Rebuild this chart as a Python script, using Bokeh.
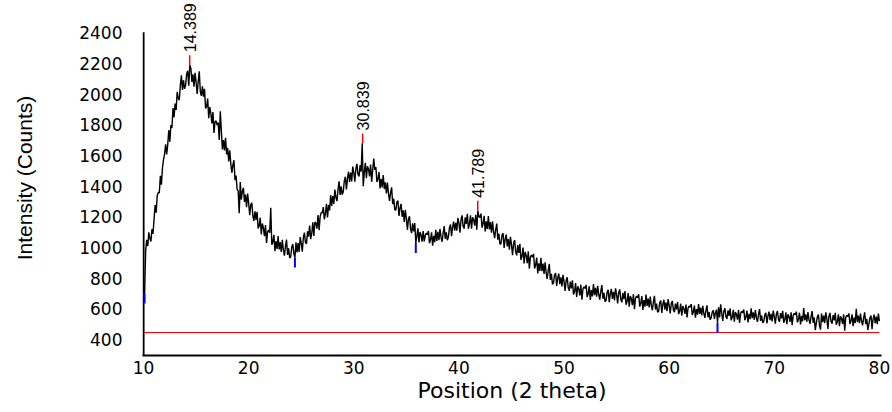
import numpy as np
from bokeh.plotting import figure
from bokeh.models import FixedTicker, LabelSet, ColumnDataSource
from bokeh.core.properties import value
from bokeh.embed import file_html
from bokeh.resources import INLINE

# ---- data (2-theta from 10.0 in 0.1 steps) ----
start_2theta = 10.0
step_2theta = 0.1
intensity = [
    690, 700, 980, 1050, 1010, 1100, 1060, 1040, 1120, 1090,      # 10
    1184, 1278, 1228, 1338, 1360, 1358, 1468, 1410, 1520, 1574,   # 11
    1610, 1674, 1608, 1672, 1766, 1690, 1800, 1780, 1910, 1850,   # 12
    1940, 1898, 2016, 1974, 1962, 2060, 2124, 2028, 2092, 2036,   # 13
    2060, 2132, 2154, 2056, 2190, 2170, 2080, 2130, 2050, 2140,   # 14
    2080, 2002, 2084, 2150, 2018, 1990, 2052, 1984, 2036, 1908,   # 15
    1920, 1972, 1844, 1916, 1878, 1810, 1884, 1748, 1822, 1826,   # 16
    1800, 1816, 1702, 1890, 1764, 1640, 1702, 1634, 1716, 1608,   # 17
    1650, 1562, 1634, 1546, 1488, 1540, 1570, 1440, 1470, 1380,   # 18
    1370, 1225, 1428, 1312, 1366, 1390, 1298, 1346, 1264, 1352,   # 19
    1289, 1212, 1279, 1292, 1206, 1174, 1236, 1181, 1234, 1125,   # 20
    1142, 1195, 1086, 1157, 1129, 1074, 1147, 1031, 1104, 1114,   # 21
    1097, 1260, 1018, 1037, 1083, 976, 1042, 991, 1075, 988,      # 22
    1036, 971, 1050, 985, 947, 1008, 1052, 952, 996, 932,         # 23
    940, 1004, 1023, 960, 935, 1035, 969, 1029, 972, 1068,        # 24
    1029, 974, 1063, 1098, 1034, 1024, 1106, 1071, 1144, 1055,    # 25
    1092, 1165, 1076, 1167, 1159, 1124, 1213, 1113, 1202, 1228,   # 26
    1227, 1264, 1184, 1221, 1285, 1196, 1278, 1243, 1343, 1272,   # 27
    1336, 1285, 1378, 1327, 1303, 1378, 1433, 1344, 1399, 1346,   # 28
    1365, 1436, 1462, 1380, 1451, 1495, 1429, 1489, 1432, 1528,   # 29
    1489, 1430, 1515, 1546, 1478, 1464, 1538, 1495, 1680, 1400,   # 30
    1492, 1553, 1452, 1531, 1511, 1464, 1541, 1429, 1506, 1580,   # 31
    1507, 1526, 1428, 1447, 1493, 1386, 1448, 1393, 1473, 1382,   # 32
    1426, 1353, 1424, 1351, 1305, 1358, 1393, 1284, 1319, 1246,   # 33
    1245, 1298, 1306, 1206, 1259, 1285, 1201, 1243, 1168, 1246,   # 34
    1189, 1116, 1187, 1204, 1122, 1094, 1158, 1105, 1160, 1030,   # 35
    1074, 1126, 1034, 1102, 1082, 1038, 1108, 1040, 1080, 1094,   # 36
    1084, 1108, 1028, 1052, 1100, 1012, 1076, 1036, 1116, 1044,   # 37
    1102, 1048, 1122, 1068, 1038, 1096, 1140, 1056, 1100, 1048,   # 38
    1070, 1130, 1150, 1074, 1134, 1170, 1110, 1162, 1110, 1194,   # 39
    1159, 1098, 1181, 1210, 1140, 1124, 1198, 1155, 1220, 1123,   # 40
    1154, 1211, 1124, 1197, 1182, 1143, 1214, 1117, 1240, 1203,   # 41
    1197, 1222, 1130, 1155, 1207, 1106, 1172, 1121, 1205, 1118,   # 42
    1166, 1097, 1172, 1103, 1061, 1118, 1157, 1052, 1091, 1022,   # 43
    1025, 1082, 1094, 998, 1055, 1085, 1007, 1055, 986, 1070,     # 44
    1019, 951, 1027, 1049, 972, 949, 1016, 966, 1024, 920,        # 45
    942, 1000, 896, 972, 949, 899, 975, 862, 938, 951,            # 46
    937, 959, 864, 886, 935, 831, 898, 848, 933, 847,             # 47
    896, 828, 904, 836, 795, 853, 893, 789, 829, 761,             # 48
    770, 822, 834, 750, 802, 830, 762, 806, 746, 822,             # 49
    778, 718, 786, 806, 738, 718, 778, 734, 786, 694,             # 50
    714, 768, 678, 748, 730, 688, 758, 660, 730, 744,             # 51
    734, 757, 677, 700, 748, 659, 723, 682, 762, 689,             # 52
    737, 680, 751, 694, 661, 716, 755, 666, 705, 648,             # 53
    655, 710, 725, 644, 699, 730, 665, 712, 655, 734,             # 54
    693, 635, 705, 727, 661, 643, 705, 663, 717, 627,             # 55
    649, 703, 614, 684, 667, 625, 696, 598, 669, 683,             # 56
    674, 696, 615, 637, 684, 594, 657, 615, 694, 620,             # 57
    667, 610, 681, 624, 591, 646, 685, 596, 635, 578,             # 58
    585, 640, 655, 574, 629, 660, 595, 642, 585, 664,             # 59
    622, 571, 633, 652, 595, 579, 634, 597, 645, 566,             # 60
    586, 634, 556, 618, 603, 567, 629, 544, 606, 619,             # 61
    611, 631, 560, 580, 621, 543, 598, 562, 631, 567,             # 62
    608, 558, 620, 570, 541, 589, 623, 545, 579, 529,             # 63
    542, 580, 591, 534, 574, 595, 510, 610, 544, 630,             # 64
    572, 522, 585, 605, 549, 534, 590, 554, 603, 525,             # 65
    546, 594, 516, 579, 565, 530, 593, 509, 571, 585,             # 66
    575, 596, 526, 547, 589, 512, 568, 533, 603, 540,             # 67
    578, 529, 592, 543, 515, 564, 599, 522, 557, 508,             # 68
    519, 561, 575, 505, 554, 582, 526, 568, 519, 589,             # 69
    552, 503, 566, 587, 531, 517, 573, 538, 587, 510,             # 70
    529, 578, 501, 564, 550, 515, 578, 494, 557, 571,             # 71
    561, 582, 512, 533, 575, 498, 554, 519, 605, 526,             # 72
    565, 516, 579, 530, 502, 551, 586, 509, 544, 462,             # 73
    507, 549, 563, 493, 465, 570, 514, 556, 507, 577,             # 74
    539, 470, 553, 574, 518, 504, 560, 525, 574, 497,             # 75
    516, 565, 488, 551, 537, 502, 565, 458, 544, 558,             # 76
    550, 571, 501, 522, 564, 487, 543, 508, 600, 515,             # 77
    556, 507, 570, 521, 493, 542, 577, 500, 535, 462,             # 78
    500, 542, 556, 468, 535, 563, 507, 549, 500, 570,             # 79
    520,                                                          # 80
]
two_theta = [round(start_2theta + i * step_2theta, 2) for i in range(len(intensity))]

peak_pos = [14.389, 30.839, 41.789]
peak_int = [2190, 1680, 1240]
peak_labels = ["14.389", "30.839", "41.789"]

min_pos = [10.1, 24.4, 35.9, 64.6]
min_int = [700, 935, 1030, 510]

background_x = [10.0, 80.0]
background_y = [446, 446]

x_ticks = [10, 20, 30, 40, 50, 60, 70, 80]
y_ticks = [400, 600, 800, 1000, 1200, 1400, 1600, 1800, 2000, 2200, 2400]

X_MIN, X_MAX = 10, 80
Y_MIN, Y_MAX = 296, 2405
MARK_LEN = 65

# ---- figure ----
# frame reaches the top of the canvas so the rotated peak labels are not clipped;
# the left axis line is drawn only up to Y_MAX
p = figure(width=892, height=412, x_range=(9.9, 80.2), y_range=(Y_MIN, 2612),
           output_backend="svg", toolbar_location=None,
           min_border_left=142, min_border_right=11,
           min_border_top=0, min_border_bottom=57)
p.outline_line_color = None
p.xgrid.visible = False
p.ygrid.visible = False
p.background_fill_color = "white"
p.border_fill_color = "white"

# left axis line
p.segment(x0=[X_MIN], y0=[Y_MIN], x1=[X_MIN], y1=[Y_MAX], line_color="black", line_width=2)

# background line
p.line(background_x, background_y, line_color="red", line_width=1)

# pattern
p.line(two_theta, intensity, line_color="black", line_width=1.4)

# peak markers (red) and minimum markers (blue)
p.segment(x0=peak_pos, y0=peak_int, x1=peak_pos,
          y1=[v + MARK_LEN for v in peak_int], line_color="red", line_width=1.5)
p.segment(x0=min_pos, y0=min_int, x1=min_pos,
          y1=[v - MARK_LEN for v in min_int], line_color="blue", line_width=2)

lab_src = ColumnDataSource(dict(x=peak_pos, y=[v + MARK_LEN for v in peak_int], t=peak_labels))
p.add_layout(LabelSet(x="x", y="y", text="t", source=lab_src, angle=90, angle_units="deg",
                      text_align="left", text_baseline="middle", y_offset=3,
                      text_font=value("Liberation Sans"), text_font_size=value("16px"),
                      text_color=value("black")))

# axes
for ax in (p.xaxis[0], p.yaxis[0]):
    ax.major_tick_line_color = None
    ax.minor_tick_line_color = None
    ax.major_tick_out = 0
    ax.major_tick_in = 0
    ax.major_label_text_font = "DejaVu Sans"
    ax.major_label_text_font_size = "17px"
    ax.major_label_text_color = "black"

p.xaxis.axis_line_width = 2
p.xaxis.axis_line_color = "black"
p.yaxis.axis_line_color = None

p.xaxis.ticker = FixedTicker(ticks=x_ticks)
p.yaxis.ticker = FixedTicker(ticks=y_ticks)
p.xaxis.major_label_standoff = 5
p.yaxis.major_label_standoff = 20

p.xaxis.axis_label = "Position (2 theta)"
p.xaxis.axis_label_text_font = "DejaVu Sans"
p.xaxis.axis_label_text_font_size = "22px"
p.xaxis.axis_label_text_font_style = "normal"
p.xaxis.axis_label_text_color = "black"
p.xaxis.axis_label_standoff = 1

p.yaxis.axis_label = "Intensity (Counts)"
p.yaxis.axis_label_text_font = "Liberation Sans"
p.yaxis.axis_label_text_font_size = "21px"
p.yaxis.axis_label_text_font_style = "normal"
p.yaxis.axis_label_text_color = "black"
p.yaxis.axis_label_standoff = 40

open("out.html", "w").write(file_html(p, INLINE))
